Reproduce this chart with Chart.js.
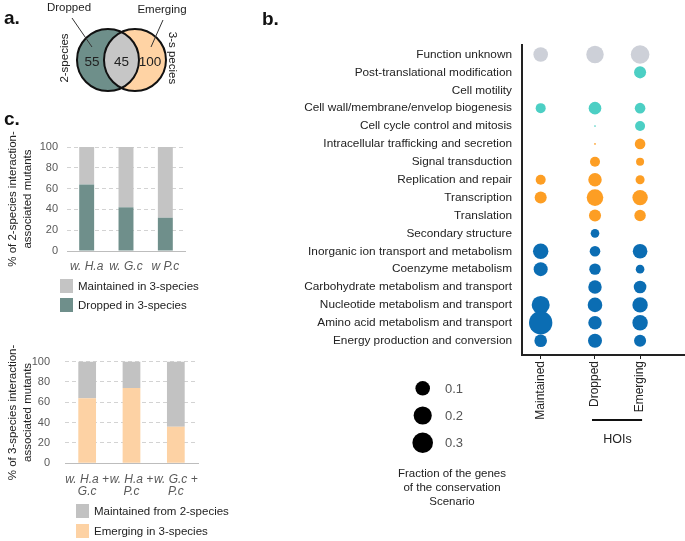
<!DOCTYPE html>
<html>
<head>
<meta charset="utf-8">
<script src="https://cdn.jsdelivr.net/npm/chart.js@4.4.0/dist/chart.umd.min.js"></script>
<style>
  body { margin: 0; background: #fff; font-family: "Liberation Sans", Arial, sans-serif; color: #222; }
  #wrap { position: relative; width: 685px; height: 541px; overflow: hidden; }
  canvas { position: absolute; }
  .tag { position: absolute; font-weight: bold; font-size: 19px; line-height: 19px; color: #111; }
  .leg { position: absolute; font-size: 11.5px; color: #222; display: flex; align-items: center; white-space: nowrap; height: 14px; }
  .leg i { display: inline-block; width: 13px; height: 14px; margin-right: 5px; }
</style>
</head>
<body>
<div id="wrap">
  <canvas id="venn" width="250" height="110" style="left:0;top:0"></canvas>
  <canvas id="c1" width="200" height="150" style="left:0;top:130px"></canvas>
  <canvas id="c2" width="210" height="180" style="left:0;top:340px"></canvas>
  <canvas id="bub" width="430" height="511" style="left:255px;top:30px"></canvas>

  <div class="tag" style="left:4px;top:8px">a.</div>
  <div class="tag" style="left:262px;top:9px">b.</div>
  <div class="tag" style="left:4px;top:109px">c.</div>

  <div class="leg" style="left:60px;top:279px"><i style="background:#c4c4c4"></i>Maintained in 3-species</div>
  <div class="leg" style="left:60px;top:298px"><i style="background:#6f8f8b"></i>Dropped in 3-species</div>
  <div class="leg" style="left:76px;top:504px"><i style="background:#c2c2c2"></i>Maintained from 2-species</div>
  <div class="leg" style="left:76px;top:524px"><i style="background:#fdd2a4"></i>Emerging in 3-species</div>
</div>

<script>
Chart.defaults.font.family = '"Liberation Sans", Arial, sans-serif';
Chart.defaults.color = '#222';

// --- panel a: venn counts
const vennSets = ['2-species', '3-s pecies'];
const vennTags = ['Dropped', 'Emerging'];
const vennCounts = [55, 45, 100]; // only 2-sp, shared, only 3-sp

// --- panel c: stacked bars
const twoSpLabels = ['w. H.a', 'w. G.c', 'w P.c'];
const droppedPct = [64, 42, 32];
const maintained2Pct = [36, 58, 68];

const threeSpLabels = [['w. H.a +', 'G.c'], ['w. H.a +', 'P.c'], ['w. G.c +', 'P.c']];
const emergingPct = [64, 74, 36];
const maintained3Pct = [36, 26, 64];

// --- panel b: COG categories, fraction of genes per scenario
const cogCats = [
  'Function unknown', 'Post-translational modification', 'Cell motility',
  'Cell wall/membrane/envelop biogenesis', 'Cell cycle control and mitosis',
  'Intracellular trafficking and secretion', 'Signal transduction',
  'Replication and repair', 'Transcription', 'Translation', 'Secondary structure',
  'Inorganic ion transport and metabolism', 'Coenzyme metabolism',
  'Carbohydrate metabolism and transport', 'Nucleotide metabolism and transport',
  'Amino acid metabolism and transport', 'Energy production and conversion'
];
const cogGroup = ['unknown', 'cellular', 'cellular', 'cellular', 'cellular',
  'info', 'info', 'info', 'info', 'info',
  'metab', 'metab', 'metab', 'metab', 'metab', 'metab', 'metab'];
const scenarios = ['Maintained', 'Dropped', 'Emerging'];
const fracMaintained = [0.10, null, null, 0.030, null, null, null, 0.030, 0.054, null, null, 0.119, 0.088, null, 0.196, 0.45, 0.063];
const fracDropped    = [0.176, null, null, 0.063, 0.0001, 0.0001, 0.030, 0.077, 0.151, 0.054, 0.0186, 0.036, 0.046, 0.077, 0.10, 0.077, 0.088];
const fracEmerging   = [0.218, 0.054, null, 0.036, 0.030, 0.036, 0.0147, 0.0215, 0.119, 0.046, null, 0.10, 0.0186, 0.063, 0.119, 0.119, 0.054];
const sizeLegend = [0.1, 0.2, 0.3];

const groupColors = { unknown: '#cdd0d8', cellular: '#4ccfc4', info: '#fd9e24', metab: '#0b6db3' };
const scenarioPos = [0, 1, 1.83];
const bubbleR = v => 15 * Math.pow(v, 0.313);

// ---------- panel a ----------
const vennPlugin = {
  id: 'vennDraw',
  afterDatasetsDraw(chart) {
    const ctx = chart.ctx;
    const [p1, p2] = chart.getDatasetMeta(0).data;
    const R = chart.data.datasets[0].pointRadius;
    ctx.save();
    // overlap
    ctx.beginPath(); ctx.arc(p1.x, p1.y, R, 0, 2 * Math.PI); ctx.clip();
    ctx.beginPath(); ctx.arc(p2.x, p2.y, R, 0, 2 * Math.PI);
    ctx.fillStyle = '#c6c6c6'; ctx.fill();
    ctx.restore();
    ctx.save();
    ctx.lineWidth = 2; ctx.strokeStyle = '#111';
    [p1, p2].forEach(p => { ctx.beginPath(); ctx.arc(p.x, p.y, R, 0, 2 * Math.PI); ctx.stroke(); });
    ctx.fillStyle = '#222'; ctx.textAlign = 'center'; ctx.textBaseline = 'middle';
    ctx.font = '13.5px "Liberation Sans", Arial';
    ctx.fillText(vennCounts[0], p1.x - 16, p1.y + 2);
    ctx.fillText(vennCounts[1], (p1.x + p2.x) / 2, p1.y + 2);
    ctx.fillText(vennCounts[2], p2.x + 15, p1.y + 2);
    ctx.font = '11.5px "Liberation Sans", Arial';
    ctx.fillText(vennTags[0], p1.x - 39, 8);
    ctx.fillText(vennTags[1], p2.x + 27, 10);
    ctx.strokeStyle = '#333'; ctx.lineWidth = 1;
    ctx.beginPath(); ctx.moveTo(p1.x - 36, 18); ctx.lineTo(p1.x - 16, 47); ctx.stroke();
    ctx.beginPath(); ctx.moveTo(p2.x + 28, 20); ctx.lineTo(p2.x + 16, 47); ctx.stroke();
    ctx.save(); ctx.translate(p1.x - 43, p1.y - 2); ctx.rotate(-Math.PI / 2);
    ctx.fillText(vennSets[0], 0, 0); ctx.restore();
    ctx.save(); ctx.translate(p2.x + 37, p2.y - 2); ctx.rotate(Math.PI / 2);
    ctx.fillText(vennSets[1], 0, 0); ctx.restore();
    ctx.restore();
  }
};

new Chart(document.getElementById('venn'), {
  type: 'scatter',
  data: { datasets: [{ data: [{ x: 0, y: 0 }, { x: 1, y: 0 }], pointRadius: 31,
    backgroundColor: ['#6e8f8a', '#ffd3a4'], borderWidth: 0 }] },
  options: {
    responsive: false, animation: false, events: [],
    layout: { padding: 0, autoPadding: false },
    plugins: { legend: { display: false }, tooltip: { enabled: false } },
    scales: {
      x: { display: false, min: -4, max: 5.26 },
      y: { display: false, min: -1.85, max: 2.22 }
    }
  },
  plugins: [vennPlugin]
});

// ---------- panel c ----------
function stackedBars(id, labels, lower, upper, colors, title, opt) {
  return new Chart(document.getElementById(id), {
    type: 'bar',
    data: {
      labels: labels,
      datasets: [
        { data: lower, backgroundColor: colors[0] },
        { data: upper, backgroundColor: colors[1] }
      ]
    },
    options: {
      responsive: false, animation: false, events: [],
      layout: { padding: { top: opt.top, right: opt.right, left: 0, bottom: 0 }, autoPadding: false },
      plugins: { legend: { display: false }, tooltip: { enabled: false } },
      datasets: { bar: { barPercentage: opt.bar, categoryPercentage: 1 } },
      scales: {
        x: {
          stacked: true,
          grid: { display: false },
          border: { color: '#bdbdbd', width: 1 },
          ticks: { color: '#595959', font: { style: 'italic', size: 12, lineHeight: '12.5px' }, padding: opt.xpad, maxRotation: 0, autoSkip: false },
          afterFit(s) { s.height = opt.xh; }
        },
        y: {
          stacked: true, min: 0, max: 100,
          grid: { color: '#d3d3d3', drawTicks: false },
          border: { display: false, dash: [4, 3] },
          ticks: { stepSize: 20, color: '#595959', font: { size: 11 }, padding: opt.ypad },
          title: { display: true, text: title, color: '#222', font: { size: 11.5, lineHeight: '15px' }, padding: { top: 5, bottom: 0 } },
          afterFit(s) { s.width = opt.yw; }
        }
      }
    }
  });
}

stackedBars('c1', twoSpLabels, droppedPct, maintained2Pct, ['#6f8f8b', '#c4c4c4'],
  ['% of 2-species interaction-', 'associated mutants'],
  { top: 17, right: 15, bar: 0.38, xh: 29, xpad: 1, yw: 67, ypad: 9 });

stackedBars('c2', threeSpLabels, emergingPct, maintained3Pct, ['#fdd2a4', '#c2c2c2'],
  ['% of 3-species interaction-', 'associated mutants'],
  { top: 19, right: 12, bar: 0.4, xh: 56.7, xpad: 2, yw: 65, ypad: 15 });

// ---------- panel b ----------
const colFracs = [fracMaintained, fracDropped, fracEmerging];
const bubbleSets = colFracs.map((fr, c) => {
  const pts = [];
  fr.forEach((v, i) => {
    if (v != null) pts.push({ x: scenarioPos[c], y: cogCats.length - 1 - i, r: bubbleR(v), g: cogGroup[i] });
  });
  return {
    label: scenarios[c], data: pts, borderWidth: 0,
    backgroundColor: ctx => groupColors[ctx.raw ? ctx.raw.g : 'metab']
  };
});

const bubbleExtras = {
  id: 'bubbleExtras',
  afterDraw(chart) {
    const ctx = chart.ctx;
    const xs = chart.scales.x;
    ctx.save();
    // HOIs bracket
    const xd = xs.getPixelForValue(scenarioPos[1]), xe = xs.getPixelForValue(scenarioPos[2]);
    ctx.strokeStyle = '#111'; ctx.lineWidth = 2;
    ctx.beginPath(); ctx.moveTo(xd - 3, 390); ctx.lineTo(xe + 2, 390); ctx.stroke();
    ctx.fillStyle = '#222'; ctx.textAlign = 'center'; ctx.textBaseline = 'middle';
    ctx.font = '12.5px "Liberation Sans", Arial';
    ctx.fillText('HOIs', (xd + xe) / 2, 410);
    // size legend
    sizeLegend.forEach((v, i) => {
      const cy = 358.3 + i * 27.2;
      ctx.beginPath(); ctx.arc(167.7, cy, bubbleR(v), 0, 2 * Math.PI);
      ctx.fillStyle = '#000'; ctx.fill();
      ctx.fillStyle = '#555'; ctx.textAlign = 'left'; ctx.font = '13px "Liberation Sans", Arial';
      ctx.fillText(v.toFixed(1), 190, cy + 1);
    });
    ctx.fillStyle = '#222'; ctx.textAlign = 'center'; ctx.font = '11.5px "Liberation Sans", Arial';
    ['Fraction of the genes', 'of the conservation', 'Scenario'].forEach((t, i) => ctx.fillText(t, 197, 443.5 + i * 14));
    ctx.restore();
  }
};

new Chart(document.getElementById('bub'), {
  type: 'bubble',
  data: { datasets: bubbleSets },
  options: {
    responsive: false, animation: false, events: [],
    layout: { padding: { top: 15, right: 0, left: 0, bottom: 0 }, autoPadding: false },
    plugins: { legend: { display: false }, tooltip: { enabled: false } },
    datasets: { bubble: { clip: false } },
    scales: {
      x: {
        type: 'linear', min: -0.344, max: 2.657,
        afterBuildTicks(s) { s.ticks = scenarioPos.map(v => ({ value: v })); },
        grid: { display: true, drawOnChartArea: false, drawTicks: true, tickLength: 4, color: '#222', lineWidth: 1 },
        border: { color: '#222', width: 2 },
        ticks: { autoSkip: false, minRotation: 90, maxRotation: 90, padding: 2, color: '#222', font: { size: 12 },
          callback: (v, i) => scenarios[i] },
        afterFit(s) { s.height = 186; }
      },
      y: {
        type: 'linear', min: -0.8, max: 16.53,
        afterBuildTicks(s) { s.ticks = cogCats.map((c, i) => ({ value: i })); },
        grid: { display: false },
        border: { color: '#222', width: 2 },
        ticks: { autoSkip: false, padding: 2, color: '#222', font: { size: 11.8 },
          callback: (v, i) => cogCats[cogCats.length - 1 - i] },
        afterFit(s) { s.width = 267; }
      }
    }
  },
  plugins: [bubbleExtras]
});
</script>
</body>
</html>
